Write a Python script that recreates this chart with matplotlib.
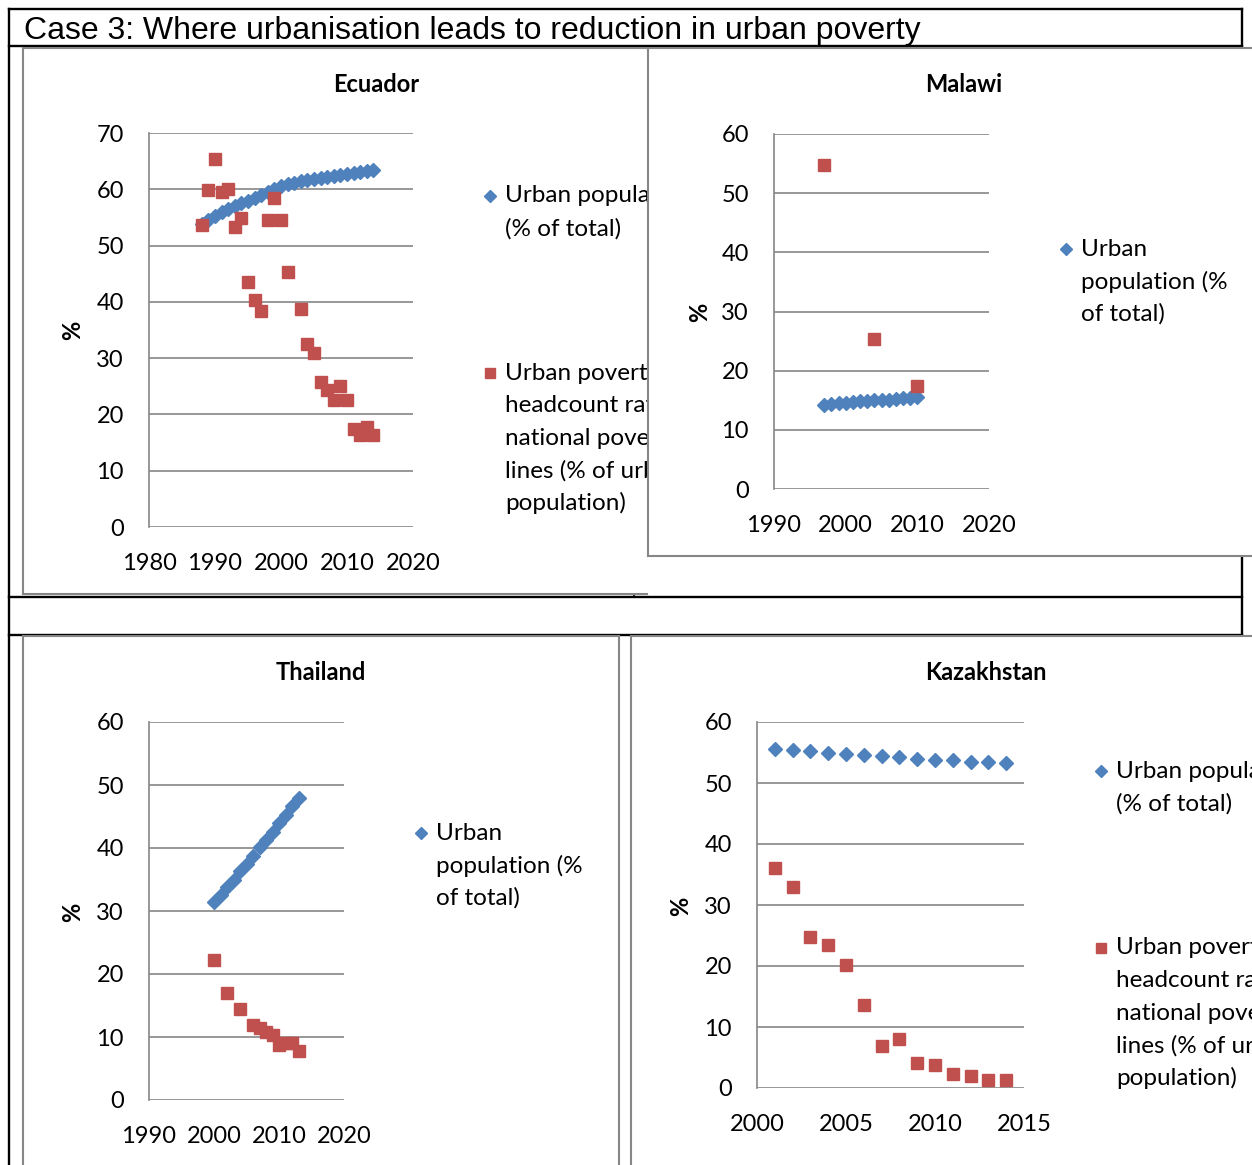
import matplotlib
matplotlib.use("Agg")
import matplotlib.pyplot as plt
from matplotlib.transforms import Affine2D

W, H = 1252, 1165
BLUE = '#4F81BD'
RED = '#C0504D'
GRID = '#868686'

plt.rcParams['font.family'] = ['Lato', 'DejaVu Sans']

# --- data -------------------------------------------------------------
ecu_pop_years = list(range(1988, 2015))
ecu_pop = [53.9, 54.6, 55.3, 55.9, 56.5, 57.0, 57.5, 58.0, 58.5, 59.0,
           59.5, 60.0, 60.5, 60.9, 61.2, 61.4, 61.6, 61.8, 62.0, 62.2,
           62.4, 62.6, 62.7, 62.9, 63.1, 63.3, 63.5]
ecu_pov_years = [1988, 1989, 1990, 1991, 1992, 1993, 1994, 1995, 1996, 1997,
                 1998, 1999, 2000, 2001, 2003, 2004, 2005, 2006, 2007, 2008,
                 2009, 2010, 2011, 2012, 2013, 2014]
ecu_pov = [53.7, 59.9, 65.4, 59.6, 60.1, 53.3, 54.9, 43.6, 40.3, 38.3,
           54.6, 58.5, 54.6, 45.3, 38.8, 32.5, 31.0, 25.8, 24.3, 22.5,
           25.1, 22.5, 17.4, 16.3, 17.7, 16.4]

mwi_pop_years = list(range(1997, 2011))
mwi_pop = [14.2, 14.4, 14.5, 14.6, 14.7, 14.8, 14.9, 15.0, 15.0, 15.1,
           15.2, 15.3, 15.4, 15.5]
mwi_pov_years = [1997, 2004, 2010]
mwi_pov = [54.8, 25.3, 17.4]

tha_pop_years = list(range(2000, 2014))
tha_pop = [31.4, 32.6, 33.8, 35.0, 36.3, 37.5, 38.8, 40.1, 41.3, 42.6,
           43.9, 45.2, 46.6, 48.0]
tha_pov_years = [2000, 2002, 2004, 2006, 2007, 2008, 2009, 2010, 2011, 2012, 2013]
tha_pov = [22.2, 17.0, 14.5, 11.9, 11.4, 10.8, 10.3, 8.7, 9.0, 9.0, 7.7]

kaz_years = list(range(2001, 2015))
kaz_pop = [55.5, 55.4, 55.2, 55.0, 54.8, 54.6, 54.4, 54.2, 53.9, 53.8,
           53.7, 53.5, 53.4, 53.3]
kaz_pov = [36.0, 33.0, 24.7, 23.5, 20.2, 13.6, 6.9, 8.1, 4.1, 3.7,
           2.3, 1.9, 1.3, 1.3]

POP_LABEL = ['Urban population', '(% of total)']
POP_LABEL_NARROW = ['Urban', 'population (%', 'of total)']
POV_LABEL = ['Urban poverty', 'headcount ratio at', 'national poverty',
             'lines (% of urban', 'population)']

fig = plt.figure(figsize=(W / 100, H / 100), dpi=100)
# pixel coordinates, origin top-left
px = Affine2D().scale(1 / W, -1 / H).translate(0, 1) + fig.transFigure


def rect(x0, y0, x1, y1):
    return [x0 / W, 1 - y1 / H, (x1 - x0) / W, (y1 - y0) / H]


# table grid behind the charts
bg = fig.add_axes([0, 0, 1, 1])
bg.set_xlim(0, W)
bg.set_ylim(H, 0)
bg.axis('off')
for y in [9, 46, 597, 635]:
    bg.plot([9, 1242], [y, y], color='black', lw=1.7, clip_on=False)
bg.plot([9, 9], [9, H], color='black', lw=1.7, clip_on=False)
bg.plot([1242, 1242], [9, H], color='black', lw=1.7, clip_on=False)
bg.plot([634, 634], [592, 597], color='black', lw=1.2, clip_on=False)
bg.text(24, 38.5, 'Case 3: Where urbanisation leads to reduction in urban poverty',
        family='Liberation Sans', fontsize=23, va='baseline', ha='left')


def legend_entry(ax, x, y, marker, color, lines):
    ms = 6 if marker == 'D' else 7
    ax.plot([x], [y], marker=marker, color=color, ms=ms, mec=color,
            transform=px, clip_on=False, ls='none')
    for i, t in enumerate(lines):
        ax.text(x + 15, y + i * 32.6, t, transform=px, fontsize=17.5,
                va='center', ha='left')


def panel(frame, area, title, title_xy, pct_xy, xlim, xticks, ylim, yticks,
          pop, pov, legends, hide_right=False):
    fa = fig.add_axes(rect(*frame))
    fa.set_xticks([])
    fa.set_yticks([])
    for name, s in fa.spines.items():
        s.set_color(GRID)
        s.set_linewidth(1.5)
    if hide_right:
        fa.spines['right'].set_visible(False)

    ax = fig.add_axes(rect(*area))
    ax.set_facecolor('none')
    ax.set_xlim(*xlim)
    ax.set_ylim(*ylim)
    ax.set_xticks(xticks)
    ax.set_yticks(yticks)
    ax.grid(axis='y', color=GRID, lw=1.2)
    ax.set_axisbelow(True)
    for name in ['top', 'right', 'bottom']:
        ax.spines[name].set_visible(False)
    ax.spines['left'].set_color(GRID)
    ax.spines['left'].set_linewidth(1.2)
    ax.tick_params(length=0, labelsize=17)
    ax.tick_params(axis='y', pad=18)
    ax.tick_params(axis='x', pad=18.5)

    ax.plot(pop[0], pop[1], 'D', color=BLUE, mec=BLUE, ms=7.5, ls='none')
    ax.plot(pov[0], pov[1], 's', color=RED, mec=RED, ms=8.5, ls='none')

    ax.text(*title_xy, title, transform=px, fontsize=17, fontweight='bold',
            ha='center', va='center')
    ax.text(*pct_xy, '%', transform=px, fontsize=17, fontweight='bold',
            ha='center', va='center', rotation=90)
    for (x, y, marker, color, lines) in legends:
        legend_entry(ax, x, y, marker, color, lines)
    return ax


panel((23, 48, 647, 593.5), (149, 133, 413, 527), 'Ecuador', (376, 85), (73, 330),
      (1980, 2020), range(1980, 2021, 10), (0, 70), range(0, 71, 10),
      (ecu_pop_years, ecu_pop), (ecu_pov_years, ecu_pov),
      [(490, 196, 'D', BLUE, POP_LABEL), (490, 373, 's', RED, POV_LABEL)],
      hide_right=True)

panel((648, 48, 1262, 556), (774, 134, 989, 489), 'Malawi', (964, 85), (700, 312),
      (1990, 2020), range(1990, 2021, 10), (0, 60), range(0, 61, 10),
      (mwi_pop_years, mwi_pop), (mwi_pov_years, mwi_pov),
      [(1066, 249, 'D', BLUE, POP_LABEL_NARROW)])

panel((23, 636, 619, 1175), (149, 722, 344, 1100), 'Thailand', (321, 673), (73, 912),
      (1990, 2020), range(1990, 2021, 10), (0, 60), range(0, 61, 10),
      (tha_pop_years, tha_pop), (tha_pov_years, tha_pov),
      [(421, 833, 'D', BLUE, POP_LABEL_NARROW)])

panel((631, 636, 1262, 1175), (757, 722, 1024, 1088), 'Kazakhstan', (986, 673), (681, 906),
      (2000, 2015), range(2000, 2016, 5), (0, 60), range(0, 61, 10),
      (kaz_years, kaz_pop), (kaz_years, kaz_pov),
      [(1101, 771, 'D', BLUE, POP_LABEL), (1101, 948, 's', RED, POV_LABEL)])

fig.savefig('out.png', dpi=100)
